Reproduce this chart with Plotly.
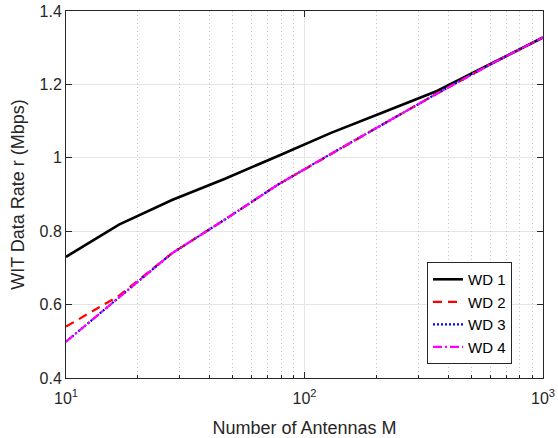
import plotly.graph_objects as go

M = [10, 16.68, 27.83, 46.42, 77.43, 129.2, 215.4, 359.4, 599.5, 1000]
wd1 = [0.730, 0.818, 0.885, 0.943, 1.005, 1.068, 1.125, 1.182, 1.255, 1.328]
wd2 = [0.540, 0.624, 0.740, 0.832, 0.927, 1.011, 1.093, 1.175, 1.254, 1.328]
wd3 = [0.499, 0.620, 0.740, 0.832, 0.927, 1.011, 1.093, 1.175, 1.254, 1.328]
wd4 = [0.499, 0.620, 0.740, 0.832, 0.927, 1.011, 1.093, 1.175, 1.254, 1.328]
names = ["WD 1", "WD 2", "WD 3", "WD 4"]
xticks = [10, 100, 1000]
xticktext = ["10<sup>1</sup>", "10<sup>2</sup>", "10<sup>3</sup>"]
minor_x = [20, 30, 40, 50, 60, 70, 80, 90, 200, 300, 400, 500, 600, 700, 800, 900]
yticks = [0.4, 0.6, 0.8, 1.0, 1.2, 1.4]
yticktext = ["0.4", "0.6", "0.8", "1", "1.2", "1.4"]

FONT = "Liberation Sans, Arial, Helvetica, sans-serif"
AX = "#262626"

fig = go.Figure()
styles = [
    dict(color="black", dash="solid", width=2.6),
    dict(color="#ff0000", dash="9px,6px", width=2.2),
    dict(color="#0000ff", dash="2px,2px", width=2.2),
    dict(color="#ff00ff", dash="9px,3px,2px,3px", width=2.2),
]
for ys, nm, st in zip([wd1, wd2, wd3, wd4], names, styles):
    fig.add_trace(go.Scatter(x=M, y=ys, mode="lines", name=nm, line=st))

# invisible trace on overlay axis for minor grid
fig.add_trace(go.Scatter(x=[10, 1000], y=[0.4, 0.4], xaxis="x2", mode="lines",
                         line=dict(width=0), showlegend=False, hoverinfo="skip"))

fig.update_layout(
    width=558, height=438,
    margin=dict(l=66, r=15, t=11, b=60, autoexpand=False),
    paper_bgcolor="white", plot_bgcolor="white",
    font=dict(family=FONT, color=AX, size=16),
    showlegend=True,
    legend=dict(x=0.935, xanchor="right", y=0.316, yanchor="top",
                bgcolor="white", bordercolor=AX, borderwidth=1,
                font=dict(size=15, family=FONT, color="black"),
                tracegroupgap=0, itemwidth=30),
    xaxis=dict(type="log", range=[1, 3], tickmode="array", tickvals=xticks,
               ticktext=xticktext, ticks="inside", ticklen=6, tickcolor=AX,
               showline=True, linecolor=AX, linewidth=1, mirror="ticks",
               showgrid=True, gridcolor="#e6e6e6", gridwidth=1, automargin=False,
               zeroline=False, tickfont=dict(size=16), ticklabeloverflow="allow",
               ticklabelstandoff=6,
               title=dict(text="Number of Antennas M", font=dict(size=18), standoff=16)),
    xaxis2=dict(type="log", range=[1, 3], overlaying="x", tickmode="array",
                tickvals=minor_x, showticklabels=False, ticks="inside", ticklen=3,
                tickcolor=AX, showgrid=True, gridcolor="#c4c4c4", griddash="1px,3px",
                automargin=False,
                gridwidth=1, zeroline=False, showline=False, side="bottom"),
    yaxis=dict(range=[0.4, 1.4], tickmode="array", tickvals=yticks, ticktext=yticktext,
               ticks="inside", ticklen=6, tickcolor=AX, automargin=False,
               showline=True, linecolor=AX, linewidth=1, mirror="ticks",
               showgrid=True, gridcolor="#e6e6e6", gridwidth=1, zeroline=False,
               tickfont=dict(size=16),
               title=dict(text="WIT Data Rate r (Mbps)", font=dict(size=18), standoff=10)),
)

fig.write_html("out.html", config={"displayModeBar": False},
               post_script="document.body.style.margin='0';")
